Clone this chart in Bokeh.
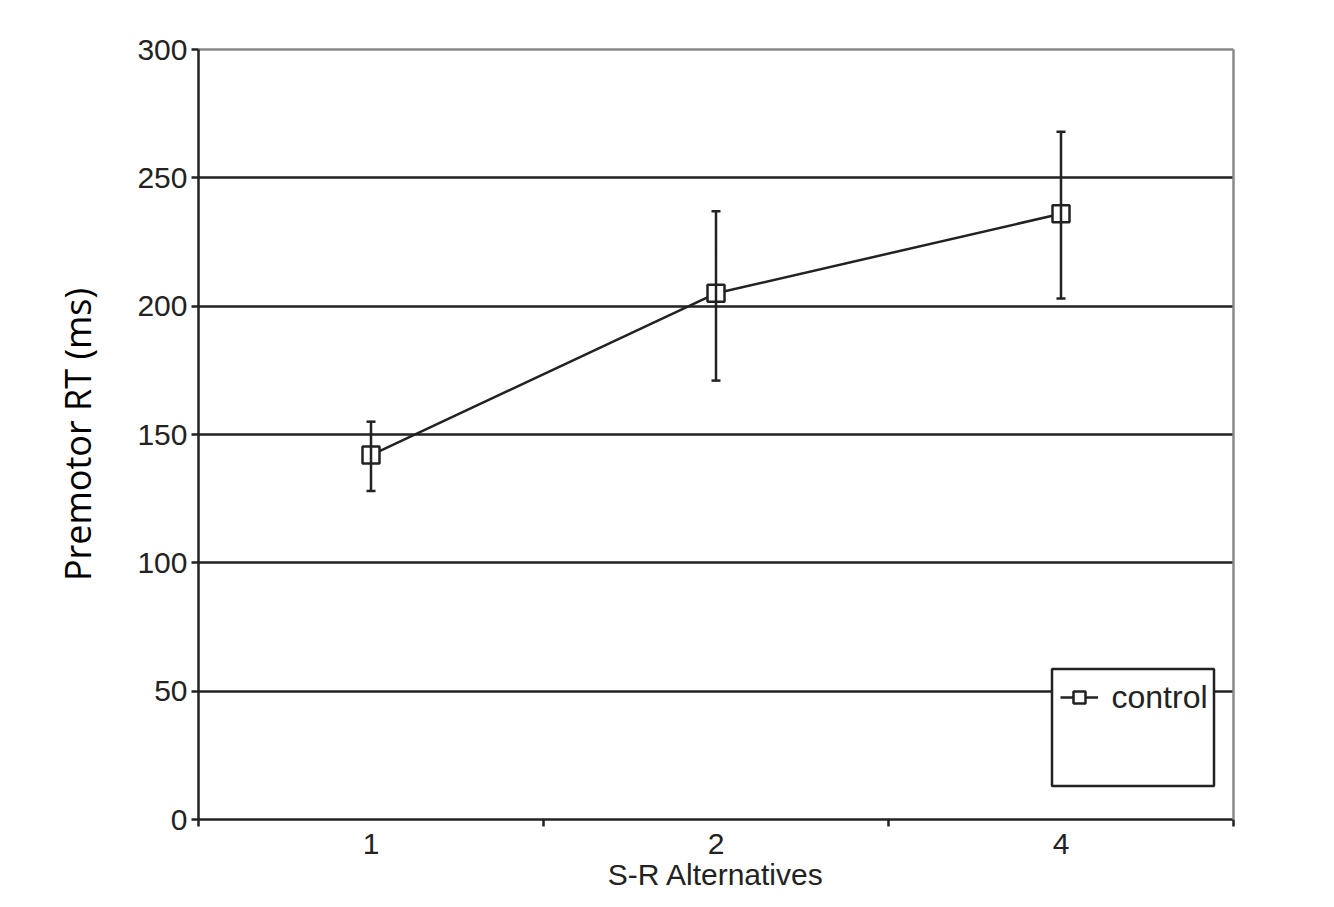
from bokeh.plotting import figure
from bokeh.models import (ColumnDataSource, FixedTicker, LinearAxis, Whisker, TeeHead,
                          Legend, LegendItem, BoxAnnotation, Range1d)
from bokeh.embed import file_html
from bokeh.resources import INLINE

# ---- data ----
categories = ["1", "2", "4"]
premotor_rt = [142, 205, 236]
err_upper = [155, 237, 268]
err_lower = [128, 171, 203]
y_ticks = [0, 50, 100, 150, 200, 250, 300]
grid_ticks = [50, 100, 150, 200, 250]
series_name = "control"
x_title = "S-R Alternatives"
y_title = "Premotor RT (ms)"

INK = "#222222"
ARIAL = "Liberation Sans"
LW = 2.5

x_pos = [i + 0.5 for i in range(len(categories))]
src = ColumnDataSource(dict(x=x_pos, y=premotor_rt, upper=err_upper, lower=err_lower))

p = figure(frame_width=1035, frame_height=770,
           x_range=Range1d(0, len(categories)), y_range=Range1d(y_ticks[0], y_ticks[-1]),
           output_backend="svg", toolbar_location=None,
           min_border_left=198, min_border_right=75, min_border_top=49, min_border_bottom=70,
           background_fill_color="white", border_fill_color="white")
p.outline_line_color = None

# x axis (categorical look: labels at centres, ticks at boundaries)
xa = p.xaxis[0]
xa.ticker = FixedTicker(ticks=x_pos, minor_ticks=list(range(len(categories) + 1)))
xa.major_label_overrides = {x: c for x, c in zip(x_pos, categories)}
xa.major_tick_out = 0
xa.major_tick_in = 0
xa.minor_tick_out = 7
xa.minor_tick_in = 0
xa.minor_tick_line_color = INK
xa.minor_tick_line_width = LW
xa.axis_line_color = INK
xa.axis_line_width = LW
xa.major_label_text_font = ARIAL
xa.major_label_text_font_size = "30px"
xa.major_label_text_color = INK
xa.major_label_standoff = 7
xa.axis_label = x_title
xa.axis_label_text_font = ARIAL
xa.axis_label_text_font_size = "30px"
xa.axis_label_text_font_style = "normal"
xa.axis_label_text_color = INK
xa.axis_label_standoff = 1

ya = p.yaxis[0]
ya.ticker = FixedTicker(ticks=y_ticks)
ya.major_tick_out = 7
ya.major_tick_in = 0
ya.major_tick_line_color = INK
ya.major_tick_line_width = LW
ya.minor_tick_line_color = None
ya.axis_line_color = INK
ya.axis_line_width = LW
ya.major_label_text_font = ARIAL
ya.major_label_text_font_size = "30px"
ya.major_label_text_color = INK
ya.major_label_standoff = 4
ya.axis_label = y_title
ya.axis_label_text_font = "Open Sans"
ya.axis_label_text_font_size = "36px"
ya.axis_label_text_font_style = "normal"
ya.axis_label_text_color = "black"
ya.axis_label_standoff = 32

# gray top / right frame lines
for side in ("above", "right"):
    ax = LinearAxis(ticker=FixedTicker(ticks=[]), major_tick_out=0, major_tick_in=0,
                    minor_tick_out=0, minor_tick_in=0, major_label_text_font_size="0px",
                    axis_line_color="#8a8a8a", axis_line_width=LW)
    p.add_layout(ax, side)

p.xgrid.grid_line_color = None
p.ygrid.ticker = FixedTicker(ticks=grid_ticks)
p.ygrid.grid_line_color = INK
p.ygrid.grid_line_width = LW

# error bars
p.add_layout(Whisker(source=src, base="x", upper="upper", lower="lower",
                     line_color=INK, line_width=LW, level="glyph",
                     upper_head=TeeHead(size=9, line_color=INK, line_width=LW),
                     lower_head=TeeHead(size=9, line_color=INK, line_width=LW)))

line_r = p.line("x", "y", source=src, line_color=INK, line_width=LW)
sc_r = p.scatter("x", "y", source=src, marker="square", size=17,
                 fill_color="white", line_color=INK, line_width=LW)

# legend box
box = BoxAnnotation(left=853.5, right=1015.5, top=150.5, bottom=33.5,
                    left_units="screen", right_units="screen",
                    top_units="screen", bottom_units="screen",
                    fill_color="white", fill_alpha=1.0,
                    line_color=INK, line_alpha=1.0, line_width=LW, level="annotation")
p.add_layout(box)

legend = Legend(items=[LegendItem(label=series_name, renderers=[line_r, sc_r])],
                location=(861.5, 103.5), padding=0, margin=0,
                border_line_color=None, background_fill_alpha=0,
                glyph_width=38, glyph_height=30, label_height=30, label_standoff=14,
                label_text_font=ARIAL, label_text_font_size="32px", label_text_color=INK)
p.add_layout(legend)

open("out.html", "w").write(file_html(p, INLINE))
